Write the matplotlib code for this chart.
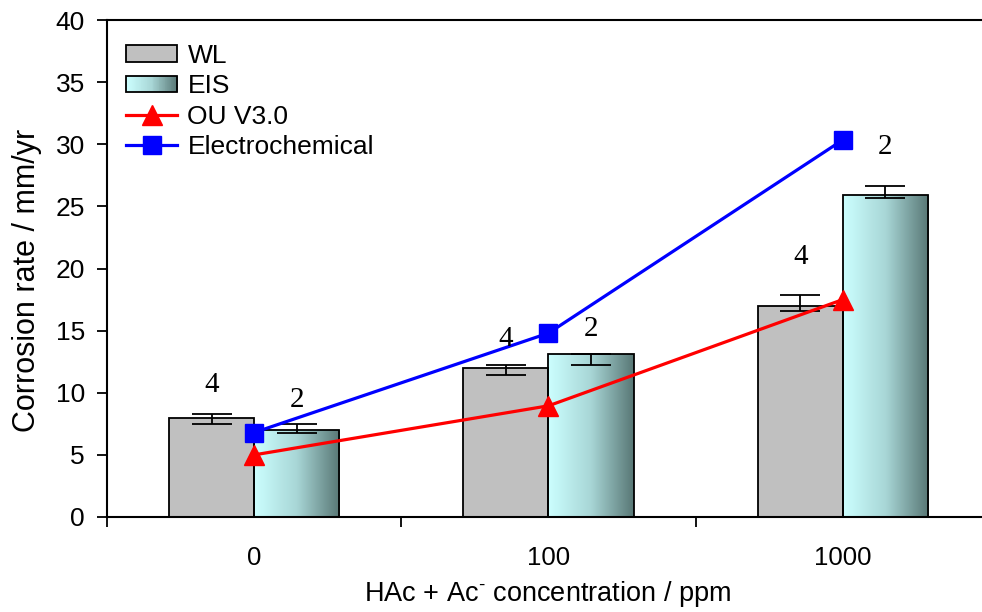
import numpy as np
import matplotlib
matplotlib.use("Agg")
import matplotlib.pyplot as plt
from matplotlib.patches import Rectangle, Patch
from matplotlib.lines import Line2D
from matplotlib.legend_handler import HandlerBase
from matplotlib.colors import LinearSegmentedColormap

# ---------------- data ----------------
categories = ["0", "100", "1000"]
wl_values = [8.0, 12.0, 17.0]
wl_err_low = [0.5, 0.55, 0.45]
wl_err_high = [0.3, 0.2, 0.9]
eis_values = [7.0, 13.1, 25.9]
eis_err_low = [0.23, 0.9, 0.25]
eis_err_high = [0.5, 0.0, 0.75]
ou_values = [5.0, 8.95, 17.5]
echem_values = [6.8, 14.8, 30.35]
wl_counts = ["4", "4", "4"]
eis_counts = ["2", "2", "2"]
yticks = [0, 5, 10, 15, 20, 25, 30, 35, 40]

plt.rcParams['font.family'] = ['Liberation Sans', 'DejaVu Sans']
plt.rcParams['mathtext.fontset'] = 'custom'
plt.rcParams['mathtext.rm'] = 'Liberation Sans'
plt.rcParams['mathtext.it'] = 'Liberation Sans'

fig = plt.figure(figsize=(9.82, 6.12), dpi=100)
W, H = 982, 612
ax = fig.add_axes([107 / W, (H - 517) / H, (990 - 107) / W, (517 - 20) / H])

x = np.arange(len(categories))
bw = 0.289
grad_cmap = LinearSegmentedColormap.from_list("eis", ["#CCFFFF", "#A8D6D6", "#587775"])

wl_bars = ax.bar(x - bw / 2, wl_values, width=bw, color="#C0C0C0",
                 edgecolor="black", linewidth=1.3, zorder=2)
eis_bars = ax.bar(x + bw / 2, eis_values, width=bw, facecolor="none",
                  edgecolor="black", linewidth=1.3, zorder=2)

grad = np.linspace(0, 1, 256).reshape(1, -1)
for b in eis_bars:
    x0, y0 = b.get_x(), b.get_y()
    im = ax.imshow(grad, cmap=grad_cmap, aspect="auto", origin="lower",
                   extent=(x0, x0 + b.get_width(), y0, y0 + b.get_height()),
                   zorder=1.9, interpolation="bicubic")
    im.set_clip_path(b)

ax.errorbar(x - bw / 2, wl_values, yerr=[wl_err_low, wl_err_high], fmt="none",
            ecolor="black", elinewidth=1.3, capsize=14.5, capthick=1.3, zorder=3)
ax.errorbar(x + bw / 2, eis_values, yerr=[eis_err_low, eis_err_high], fmt="none",
            ecolor="black", elinewidth=1.3, capsize=14.5, capthick=1.3, zorder=3)

ax.plot(x, ou_values, color="#FF0000", lw=2.3, marker="^", ms=15,
        markerfacecolor="#FF0000", markeredgecolor="#FF0000", zorder=4)
ax.plot(x, echem_values, color="#0000FF", lw=2.3, marker="s", ms=13.5,
        markerfacecolor="#0000FF", markeredgecolor="#0000FF", zorder=4)

# count labels above bars
wl_offsets = [1.3, 1.1, 2.0]
eis_offsets = [0.9, 1.0, 2.1]
for i in range(len(categories)):
    ax.text(x[i] - bw / 2, wl_values[i] + wl_err_high[i] + wl_offsets[i], wl_counts[i],
            ha="center", va="bottom", fontsize=21, family="Liberation Serif", zorder=5)
    ax.text(x[i] + bw / 2, eis_values[i] + eis_err_high[i] + eis_offsets[i], eis_counts[i],
            ha="center", va="bottom", fontsize=21, family="Liberation Serif", zorder=5)

ax.set_xlim(-0.5, 2.5)
ax.set_ylim(0, 40)
ax.set_yticks(yticks)
ax.set_xticks(x)
ax.set_xticklabels(categories)
ax.set_xticks(np.arange(-0.5, 3.0, 1.0), minor=True)
ax.tick_params(axis="x", which="major", length=0, pad=21, labelsize=18.5)
ax.tick_params(axis="x", which="minor", length=7, width=1.3, direction="out")
ax.tick_params(axis="y", length=7, width=1.3, direction="out", labelsize=19, pad=9)
for s in ["left", "bottom", "top"]:
    ax.spines[s].set_linewidth(1.5)
ax.spines["right"].set_visible(False)

ax.set_ylabel("Corrosion rate / mm/yr", fontsize=22)
ax.yaxis.set_label_coords(-0.074, 0.477)
ax.set_xlabel(r"HAc + Ac$^{\text{-}}$ concentration / ppm", fontsize=19.5)
ax.xaxis.set_label_coords(0.4994, -0.125)


class GradientHandler(HandlerBase):
    def create_artists(self, legend, orig_handle, xdescent, ydescent, width, height, fontsize, trans):
        n = 60
        arts = []
        for i in range(n):
            r = Rectangle((-xdescent + width * i / n, -ydescent), width / n * 1.05, height,
                          facecolor=grad_cmap(i / (n - 1)), edgecolor="none", transform=trans)
            arts.append(r)
        arts.append(Rectangle((-xdescent, -ydescent), width, height, facecolor="none",
                              edgecolor="black", lw=1.3, transform=trans))
        return arts


wl_handle = Patch(facecolor="#C0C0C0", edgecolor="black", linewidth=1.3)
eis_handle = Patch(facecolor="none", edgecolor="black")
ou_handle = Line2D([], [], color="#FF0000", lw=2.3, marker="^", ms=15)
ec_handle = Line2D([], [], color="#0000FF", lw=2.3, marker="s", ms=13.5)
ax.legend([wl_handle, eis_handle, ou_handle, ec_handle],
          ["WL", "EIS", "OU V3.0", "Electrochemical"],
          handler_map={eis_handle: GradientHandler()},
          loc="upper left", bbox_to_anchor=(126 / W, (H - 44) / H),
          bbox_transform=fig.transFigure, frameon=False, fontsize=19,
          handlelength=1.95, handleheight=0.6, handletextpad=0.38,
          labelspacing=0.24, borderpad=0, borderaxespad=0, numpoints=1)

fig.savefig("out.png", dpi=100)
